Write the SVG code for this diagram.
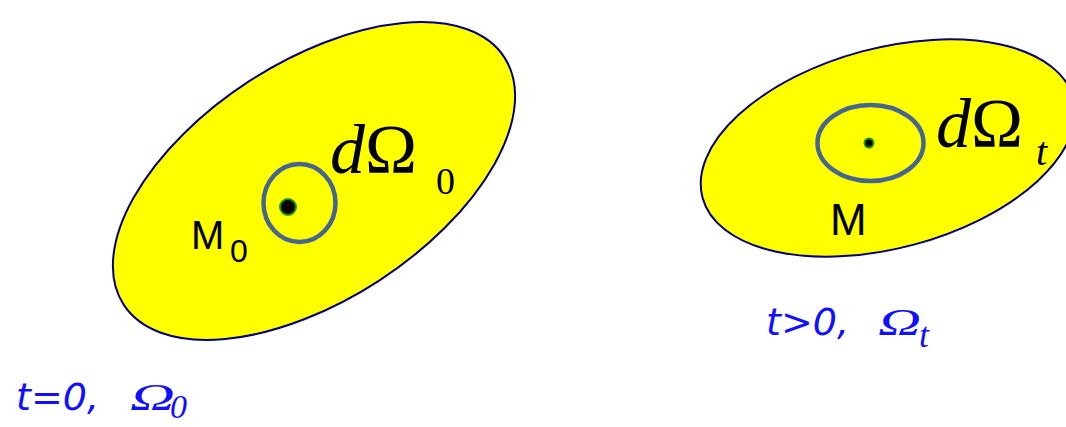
<svg xmlns="http://www.w3.org/2000/svg" width="1066" height="427" viewBox="0 0 1066 427">
<style>
.region{fill:#ffff00;stroke:#000080;stroke-width:2}
.elem{fill:none;stroke:#46658f;stroke-width:4.5}
.dot{fill:#000;stroke:#1a9a1a;stroke-width:2}
.lbl{font-family:"Liberation Sans",Arial,sans-serif;fill:#000}
.math{font-family:"Liberation Serif","Times New Roman",serif;fill:#000}
.cap{font-family:"DejaVu Sans",Verdana,sans-serif;font-style:oblique;fill:#1010ff}
.capm{font-family:"Liberation Serif","Times New Roman",serif;font-style:italic;fill:#1010ff}
</style>
<g id="omega0">
<ellipse class="region" cx="314" cy="181" rx="227" ry="119" transform="rotate(-33 314 181)"/>
</g>
<g id="omegat">
<ellipse class="region" cx="888" cy="148" rx="192" ry="100" transform="rotate(-15 888 148)"/>
</g>
<g id="dOmega0">
<ellipse class="elem" cx="299.5" cy="203" rx="36" ry="39"/>
<circle class="dot" cx="288" cy="207" r="8"/>
<text class="math" x="330" y="173" font-size="70"><tspan font-style="italic">d</tspan>Ω</text>
<text class="math" x="436" y="194" font-size="38">0</text>
<text class="lbl" x="191" y="249" font-size="40">M</text>
<text class="lbl" x="230" y="262" font-size="32">0</text>
</g>
<g id="dOmegat">
<ellipse class="elem" cx="870.5" cy="143" rx="53" ry="38"/>
<circle class="dot" cx="869" cy="143" r="4.5"/>
<text class="math" x="936" y="147" font-size="70"><tspan font-style="italic">d</tspan>Ω</text>
<text class="math" x="1036" y="165" font-size="40" font-style="italic">t</text>
<text class="lbl" x="830" y="235" font-size="44">M</text>
</g>
<g id="captions">
<text class="cap" x="16" y="410" font-size="38">t=0,</text>
<text class="capm" x="130" y="410" font-size="38" textLength="45" lengthAdjust="spacingAndGlyphs">Ω</text>
<text class="capm" x="170" y="418" font-size="34">0</text>
<text class="cap" x="766" y="335" font-size="38">t&gt;0,</text>
<text class="capm" x="878" y="335" font-size="38" textLength="43" lengthAdjust="spacingAndGlyphs">Ω</text>
<text class="capm" x="919" y="347" font-size="36">t</text>
</g>
</svg>
